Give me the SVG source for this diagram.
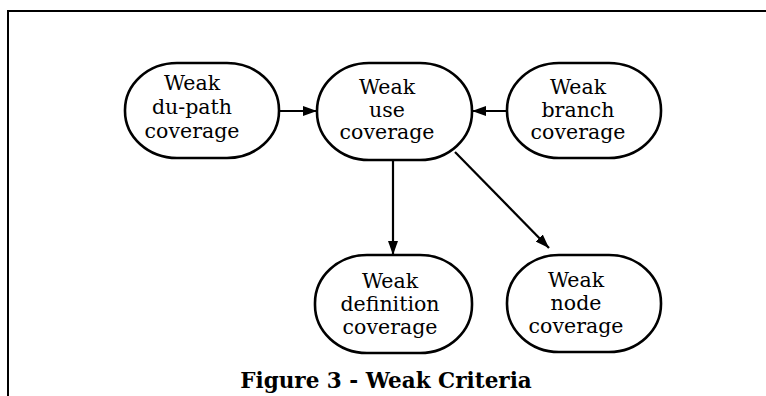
<svg xmlns="http://www.w3.org/2000/svg" width="766" height="396" viewBox="0 0 766 396">
  <style>
    .node { fill: #fff; stroke: #000; stroke-width: 2.6; }
    .label { font-family: "DejaVu Serif", "Liberation Serif", serif; font-size: 20.5px; fill: #000; text-anchor: middle; }
    .title { font-family: "DejaVu Serif", "Liberation Serif", serif; font-size: 21.5px; font-weight: bold; fill: #000; text-anchor: middle; }
    .edge { stroke: #000; stroke-width: 2.2; fill: none; marker-end: url(#head); }
    .frame { stroke: #000; stroke-width: 2; fill: none; }
  </style>
  <defs>
    <marker id="head" viewBox="0 0 14 10" refX="14" refY="5" markerWidth="14" markerHeight="10" markerUnits="userSpaceOnUse" orient="auto">
      <path d="M0,0 L14,5 L0,10 Z" fill="#000"/>
    </marker>
  </defs>

  <!-- page frame -->
  <path class="frame" d="M8,396 V11 H766"/>

  <!-- connectors -->
  <g id="edges">
    <line class="edge" x1="279" y1="111" x2="317" y2="111"/>
    <line class="edge" x1="507" y1="111" x2="472" y2="111"/>
    <line class="edge" x1="393" y1="160" x2="393" y2="255"/>
    <line class="edge" x1="455" y1="152" x2="549" y2="248"/>
  </g>

  <g id="weak-du-path">
    <rect class="node" x="125" y="63" width="154" height="95" rx="52" ry="47"/>
    <text class="label"><tspan x="192" y="90">Weak</tspan><tspan x="192" y="114">du-path</tspan><tspan x="192" y="138">coverage</tspan></text>
  </g>

  <g id="weak-use">
    <rect class="node" x="317" y="63" width="155" height="97" rx="52" ry="48"/>
    <text class="label"><tspan x="387" y="94">Weak</tspan><tspan x="387" y="116.5">use</tspan><tspan x="387" y="139">coverage</tspan></text>
  </g>

  <g id="weak-branch">
    <rect class="node" x="507" y="63" width="154" height="95" rx="52" ry="47"/>
    <text class="label"><tspan x="578" y="94">Weak</tspan><tspan x="578" y="116.5">branch</tspan><tspan x="578" y="139">coverage</tspan></text>
  </g>

  <g id="weak-definition">
    <rect class="node" x="315" y="255" width="157" height="98" rx="52" ry="48"/>
    <text class="label"><tspan x="390" y="288">Weak</tspan><tspan x="390" y="311">definition</tspan><tspan x="390" y="334">coverage</tspan></text>
  </g>

  <g id="weak-node">
    <rect class="node" x="507" y="255" width="154" height="97" rx="52" ry="48"/>
    <text class="label"><tspan x="576" y="287">Weak</tspan><tspan x="576" y="310">node</tspan><tspan x="576" y="333">coverage</tspan></text>
  </g>

  <text class="title" x="386" y="388">Figure 3 - Weak Criteria</text>
</svg>
